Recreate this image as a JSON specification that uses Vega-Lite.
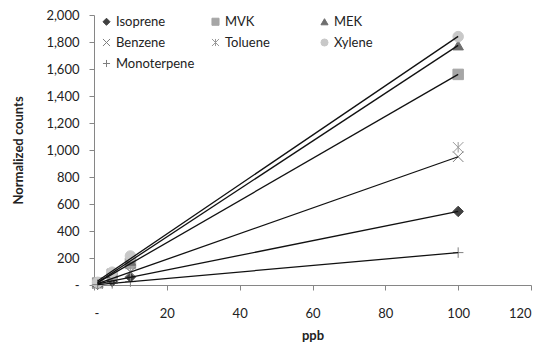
{
  "$schema": "https://vega.github.io/schema/vega-lite/v6.json",
  "width": 437,
  "height": 270,
  "autosize": {"type": "none"},
  "padding": {"left": 94, "top": 15, "right": 9, "bottom": 60},
  "background": "white",
  "config": {
    "view": {"stroke": null},
    "font": "Lato",
    "axis": {
      "domainColor": "#868686",
      "tickColor": "#868686",
      "grid": false,
      "labelColor": "#222",
      "labelFont": "Lato",
      "labelFontSize": 13,
      "labelOverlap": false,
      "labelBound": false,
      "titleFont": "Lato",
      "titleFontSize": 13,
      "titleFontWeight": "bold",
      "titleColor": "#222",
      "tickSize": 5
    }
  },
  "data": {
    "values": [
      {"series": "Isoprene", "x": 1, "y": 6},
      {"series": "Isoprene", "x": 5, "y": 28},
      {"series": "Isoprene", "x": 10, "y": 60},
      {"series": "Isoprene", "x": 100, "y": 545},
      {"series": "MVK", "x": 1, "y": 16},
      {"series": "MVK", "x": 5, "y": 80},
      {"series": "MVK", "x": 10, "y": 160},
      {"series": "MVK", "x": 100, "y": 1560},
      {"series": "MEK", "x": 1, "y": 18},
      {"series": "MEK", "x": 5, "y": 90},
      {"series": "MEK", "x": 10, "y": 180},
      {"series": "MEK", "x": 100, "y": 1775},
      {"series": "Benzene", "x": 1, "y": 10},
      {"series": "Benzene", "x": 5, "y": 48},
      {"series": "Benzene", "x": 10, "y": 95},
      {"series": "Benzene", "x": 100, "y": 950},
      {"series": "Toluene", "x": 1, "y": 10},
      {"series": "Toluene", "x": 5, "y": 50},
      {"series": "Toluene", "x": 10, "y": 100},
      {"series": "Toluene", "x": 100, "y": 1020},
      {"series": "Xylene", "x": 1, "y": 20},
      {"series": "Xylene", "x": 5, "y": 95},
      {"series": "Xylene", "x": 10, "y": 215},
      {"series": "Xylene", "x": 100, "y": 1840},
      {"series": "Monoterpene", "x": 1, "y": 3},
      {"series": "Monoterpene", "x": 5, "y": 12},
      {"series": "Monoterpene", "x": 10, "y": 25},
      {"series": "Monoterpene", "x": 100, "y": 240}
    ]
  },
  "encoding": {
    "x": {
      "field": "x", "type": "quantitative",
      "scale": {"domain": [0, 120], "nice": false},
      "axis": {"values": [0, 20, 40, 60, 80, 100, 120], "title": "ppb", "labelPadding": 17, "titlePadding": 9, "labelOverlap": false,
               "labelExpr": "datum.value == 0 ? '-' : format(datum.value, ',')"}
    },
    "y": {
      "field": "y", "type": "quantitative",
      "scale": {"domain": [0, 2000], "nice": false},
      "axis": {"values": [0, 200, 400, 600, 800, 1000, 1200, 1400, 1600, 1800, 2000], "title": "Normalized counts", "labelPadding": 10, "titlePadding": 20, "labelOverlap": false,
               "labelExpr": "datum.value == 0 ? '-' : format(datum.value, ',')"}
    }
  },
  "layer": [
    {
      "mark": {"type": "point", "filled": true, "size": 110, "strokeWidth": 1, "opacity": 1},
      "encoding": {
        "fill": {
          "field": "series", "type": "nominal",
          "scale": {
            "domain": ["Isoprene", "MVK", "MEK", "Benzene", "Toluene", "Xylene", "Monoterpene"],
            "range": ["#404040", "#a6a6a6", "#6e6e6e", "#7f7f7f", "#9a9a9a", "#c8c8c8", "#7f7f7f"]
          },
          "legend": {
            "title": null, "orient": "none", "legendX": 6, "legendY": 0, "columns": 3, "direction": "horizontal", "gridAlign": "all",
            "labelFont": "Lato", "labelFontSize": 13, "labelColor": "#222",
            "symbolSize": 50, "rowPadding": 7, "columnPadding": 14, "labelOffset": 3, "symbolStrokeWidth": 1
          }
        },
        "stroke": {
          "field": "series", "type": "nominal",
          "scale": {
            "domain": ["Isoprene", "MVK", "MEK", "Benzene", "Toluene", "Xylene", "Monoterpene"],
            "range": ["#404040", "#a6a6a6", "#6e6e6e", "#7f7f7f", "#9a9a9a", "#c8c8c8", "#7f7f7f"]
          }
        },
        "shape": {
          "field": "series", "type": "nominal",
          "scale": {
            "domain": ["Isoprene", "MVK", "MEK", "Benzene", "Toluene", "Xylene", "Monoterpene"],
            "range": ["diamond", "square", "triangle-up", "M-1,-1L1,1M-1,1L1,-1", "M-1,-1L1,1M-1,1L1,-1M0,-1L0,1", "circle", "M-1,0L1,0M0,-1L0,1"]
          }
        }
      }
    },
    {
      "transform": [
        {"filter": "datum.series != 'Toluene'"},
        {"regression": "y", "on": "x", "groupby": ["series"]}
      ],
      "mark": {"type": "line", "color": "#111", "strokeWidth": 1.3},
      "encoding": {
        "detail": {"field": "series", "type": "nominal"}
      }
    }
  ]
}
